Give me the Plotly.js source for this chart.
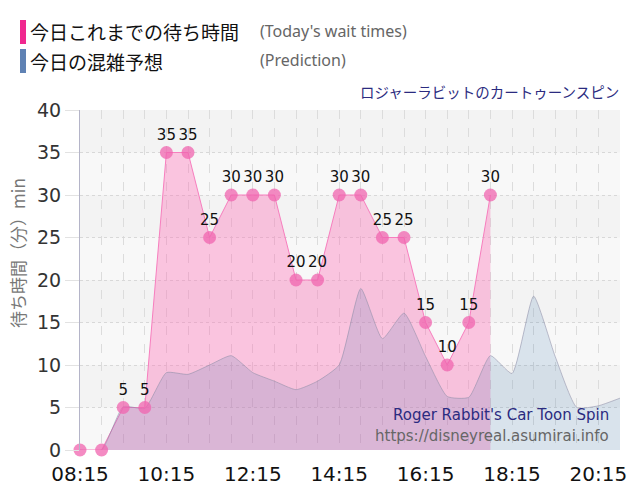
<!DOCTYPE html>
<html>
<head>
<meta charset="utf-8">
<script src="https://cdn.plot.ly/plotly-3.0.1.min.js"></script>
<style>
html,body{margin:0;padding:0;background:#fff;}
#chart{width:640px;height:500px;}
</style>
</head>
<body>
<div id="chart"></div>
<script>
// ---- data ----
var waitTimes = ["08:15","08:45","09:15","09:45","10:15","10:45","11:15","11:45","12:15","12:45",
                 "13:15","13:45","14:15","14:45","15:15","15:45","16:15","16:45","17:15","17:45"];
var waitValues = [0,0,5,5,35,35,25,30,30,30,20,20,30,30,25,25,15,10,15,30];

var predTimes = ["08:15","08:45","09:15","09:45","10:15","10:45","11:15","11:45","12:15","12:45",
                 "13:15","13:45","14:15","14:45","15:15","15:45","16:15","16:45","17:15","17:45",
                 "18:15","18:45","19:15","19:45","20:15","20:45"];
var predValues = [0,0,5.1,4.9,9.1,8.9,10.0,11.1,9.1,8.1,
                  7.1,8.1,10.0,19.0,13.1,16.1,11.0,6.3,6.2,11.1,
                  9.0,18.1,11.0,5.0,5.2,6.1];

var xTickLabels = ["08:15","10:15","12:15","14:15","16:15","18:15","20:15"];
var yTickValues = [0,5,10,15,20,25,30,35,40];

var titleJa = "ロジャーラビットのカートゥーンスピン";
var titleEn = "Roger Rabbit's Car Toon Spin";
var siteUrl = "https://disneyreal.asumirai.info";
var legendJa = ["今日これまでの待ち時間","今日の混雑予想"];
var legendEn = ["(Today's wait times)","(Prediction)"];
var yTitle = "待ち時間（分）min";

// ---- helpers ----
var day = "2024-01-01 ";
function toDate(t){ return day + t + ":00"; }
var wx = waitTimes.map(toDate);
var px = predTimes.map(toDate);

var traces = [
  {
    x: wx, y: waitValues, type: "scatter", mode: "lines",
    line: {color: "#f77ebe", width: 1},
    fill: "tozeroy", fillcolor: "rgba(255,105,180,0.36)",
    hoverinfo: "skip", cliponaxis: false
  },
  {
    x: px, y: predValues, type: "scatter", mode: "lines",
    line: {color: "rgba(140,140,165,0.55)", width: 1, shape: "spline", smoothing: 0.5},
    fill: "tozeroy", fillcolor: "rgba(25,100,165,0.14)",
    hoverinfo: "skip"
  },
  {
    x: wx, y: waitValues, type: "scatter", mode: "markers+text",
    marker: {size: 13, color: "rgba(240,100,175,0.75)", line: {width: 0}},
    text: waitValues.map(function(v){ return v > 0 ? String(v) : ""; }),
    textposition: "top center",
    textfont: {family: "DejaVu Sans", size: 15, color: "#111"},
    hoverinfo: "skip", cliponaxis: false
  }
];

// bands
var shapes = [];
for (var b = 0; b < 40; b += 10) {
  shapes.push({type: "rect", xref: "paper", yref: "y", x0: 0, x1: 1, y0: b, y1: b + 5,
               fillcolor: "#f8f8f8", line: {width: 0}, layer: "below"});
}
// legend bars
function pxX(p){ return (p - 80) / 540; }
function pxY(p){ return (450 - p) / 340; }
shapes.push({type: "rect", xref: "paper", yref: "paper", x0: pxX(20), x1: pxX(26), y0: pxY(44), y1: pxY(20),
             fillcolor: "#f0288f", line: {width: 0}});
shapes.push({type: "rect", xref: "paper", yref: "paper", x0: pxX(20), x1: pxX(26), y0: pxY(73), y1: pxY(49),
             fillcolor: "#5f82b4", line: {width: 0}});

var annotations = [
  {xref: "paper", yref: "paper", x: pxX(28), y: pxY(32), xanchor: "left", yanchor: "middle",
   text: legendJa[0], showarrow: false, font: {family: "Noto Sans CJK JP", size: 19, color: "#111"}},
  {xref: "paper", yref: "paper", x: pxX(28), y: pxY(61), xanchor: "left", yanchor: "middle",
   text: legendJa[1], showarrow: false, font: {family: "Noto Sans CJK JP", size: 19, color: "#111"}},
  {xref: "paper", yref: "paper", x: pxX(258), y: pxY(31), xanchor: "left", yanchor: "middle",
   text: legendEn[0], showarrow: false, font: {family: "Noto Sans", size: 16, color: "#666"}},
  {xref: "paper", yref: "paper", x: pxX(258), y: pxY(60), xanchor: "left", yanchor: "middle",
   text: legendEn[1], showarrow: false, font: {family: "Noto Sans", size: 16, color: "#666"}},
  {xref: "paper", yref: "paper", x: pxX(621), y: pxY(91), xanchor: "right", yanchor: "middle",
   text: titleJa, showarrow: false, font: {family: "Noto Sans CJK JP", size: 14.5, color: "#2b2b80"}},
  {xref: "paper", yref: "paper", x: pxX(611), y: pxY(415), xanchor: "right", yanchor: "middle",
   text: titleEn, showarrow: false, font: {family: "DejaVu Sans", size: 15, color: "#2b2b80"}},
  {xref: "paper", yref: "paper", x: pxX(611), y: pxY(436), xanchor: "right", yanchor: "middle",
   text: siteUrl, showarrow: false, font: {family: "DejaVu Sans", size: 15, color: "#666"}},
  {xref: "paper", yref: "paper", x: pxX(18), y: pxY(253), xanchor: "center", yanchor: "middle",
   text: yTitle, textangle: -90, showarrow: false, font: {family: "Noto Sans CJK JP", size: 17, color: "#777"}}
];

var layout = {
  width: 640, height: 500,
  margin: {l: 80, r: 20, t: 110, b: 50, pad: 0},
  paper_bgcolor: "#ffffff",
  plot_bgcolor: "#f3f3f3",
  showlegend: false,
  hovermode: false,
  xaxis: {
    type: "date",
    range: [toDate("08:15"), toDate("20:45")],
    tickvals: xTickLabels.map(toDate),
    ticktext: xTickLabels,
    tickfont: {family: "DejaVu Sans", size: 20, color: "#111"},
    ticklabelstandoff: 10,
    showgrid: true, gridcolor: "#dcdcdc", griddash: "dash", gridwidth: 1,
    minor: {dtick: 1800000, tick0: toDate("08:15"), showgrid: true, gridcolor: "#dcdcdc", griddash: "dash", gridwidth: 1},
    showline: false, zeroline: false, ticks: "", fixedrange: true
  },
  yaxis: {
    range: [0, 40],
    tickvals: yTickValues,
    tickfont: {family: "DejaVu Sans", size: 19, color: "#333"},
    showgrid: true, gridcolor: "#d8d8d8", griddash: "dot", gridwidth: 1,
    showline: true, linecolor: "#b4b4c8", linewidth: 1,
    ticks: "outside", ticklen: 14, tickcolor: "#e2e2e2", tickwidth: 1,
    zeroline: false, fixedrange: true
  },
  shapes: shapes,
  annotations: annotations
};

Plotly.newPlot("chart", traces, layout, {displayModeBar: false, staticPlot: true});
</script>
</body>
</html>
